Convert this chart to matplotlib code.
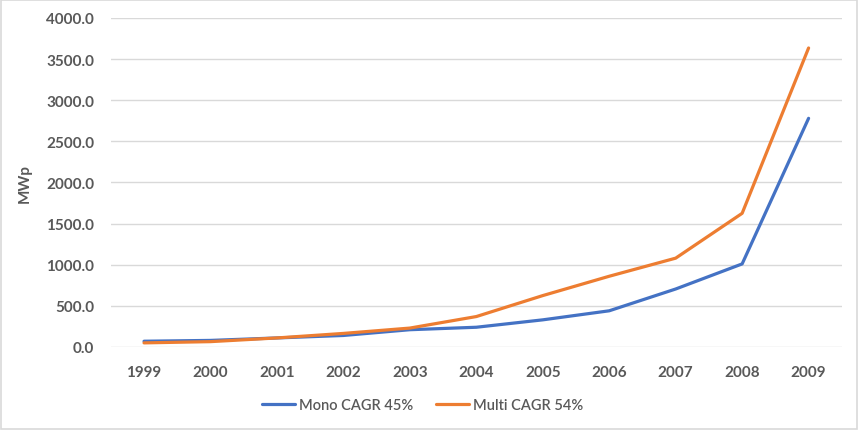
import matplotlib.pyplot as plt
from matplotlib.patches import Rectangle

years = ['1999', '2000', '2001', '2002', '2003', '2004',
         '2005', '2006', '2007', '2008', '2009']
mono = [70, 80, 110, 140, 210, 240, 330, 440, 705, 1010, 2780]
multi = [50, 65, 110, 165, 230, 370, 625, 860, 1080, 1625, 3635]
y_ticks = [0, 500, 1000, 1500, 2000, 2500, 3000, 3500, 4000]

plt.rcParams['font.family'] = ['Lato', 'DejaVu Sans']
text_color = '#595959'

fig = plt.figure(figsize=(8.59, 4.31), dpi=100)
ax = fig.add_axes([0.129, 0.1926, 0.851, 0.7634])

x = list(range(len(years)))
ax.plot(x, mono, color='#4472C4', lw=2.3, label='Mono CAGR 45%',
        solid_capstyle='round', solid_joinstyle='round')
ax.plot(x, multi, color='#ED7D31', lw=2.3, label='Multi CAGR 54%',
        solid_capstyle='round', solid_joinstyle='round')

ax.set_xlim(-0.5, len(years) - 0.5)
ax.set_ylim(0, 4000)
ax.set_xticks(x)
ax.set_xticklabels(years)
ax.set_yticks(y_ticks)
ax.set_yticklabels([f'{v:.1f}' for v in y_ticks])
ax.tick_params(axis='x', length=0, labelsize=11, labelcolor=text_color, pad=13)
ax.tick_params(axis='y', length=0, labelsize=11, labelcolor=text_color, pad=12)
for lab in ax.get_xticklabels() + ax.get_yticklabels():
    lab.set_fontweight('bold')

ax.grid(axis='y', color='#D9D9D9', lw=1)
ax.set_axisbelow(True)
for s in ax.spines.values():
    s.set_visible(False)

ax.set_ylabel('MWp', fontsize=11, fontweight='bold', color=text_color)
ax.yaxis.set_label_coords(-0.108, 0.5)

leg = fig.legend(*ax.get_legend_handles_labels(), loc='center',
                 bbox_to_anchor=(0.492, 0.058), ncol=2, frameon=False,
                 prop={'size': 10.5, 'weight': 'semibold'},
                 handlelength=2.3, columnspacing=1.5, handletextpad=0.3)
for t in leg.get_texts():
    t.set_color(text_color)

fig.patches.append(Rectangle((0.001, 0.002), 0.997, 0.995, transform=fig.transFigure,
                             fill=False, edgecolor='#D9D9D9', lw=1.2))

fig.savefig('out.png', dpi=100)
